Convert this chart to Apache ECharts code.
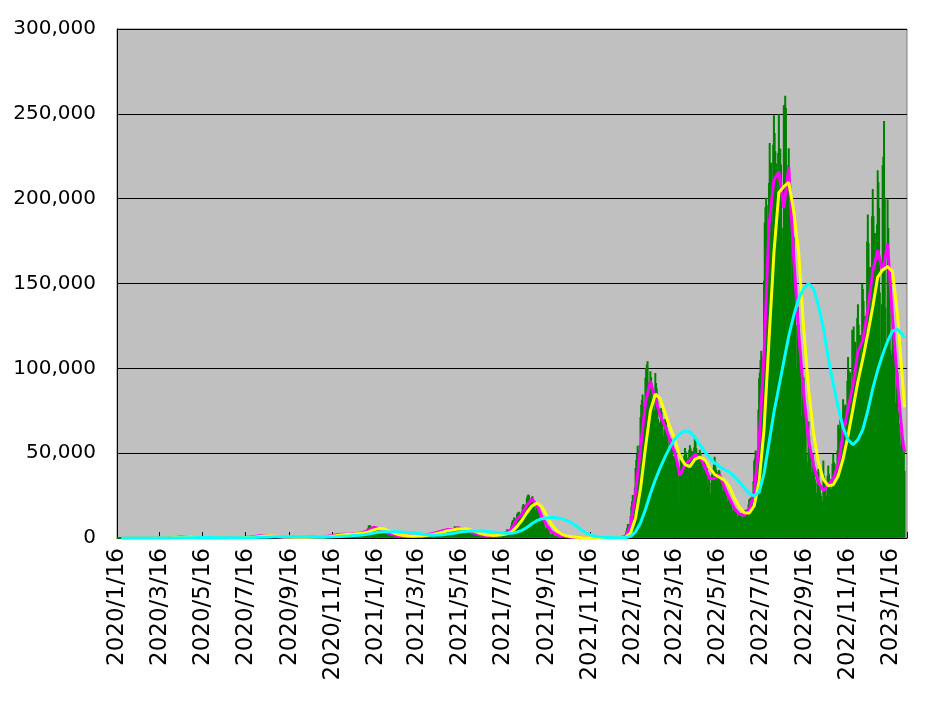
<!DOCTYPE html>
<html><head><meta charset="utf-8">
<script src="https://cdn.jsdelivr.net/npm/echarts/dist/echarts.min.js"></script>
<style>html,body{margin:0;padding:0;background:#fff}#c{width:936px;height:702px}</style>
</head><body><div id="c"></div>
<script>
// Daily new cases, rows = weeks Thu..Wed, first day 2020/1/16
const firstDay = [2020, 1, 16];
const dayCount = 1119;
const cases2020 = [
1,0,0,0,0,0,0, 0,1,1,0,0,2,1, 3,2,1,0,0,0,0, 0,0,0,0,0,0,1,
4,8,6,5,4,2,3, 8,9,11,9,11,8,7, 14,15,10,9,15,14,31, 32,36,45,40,27,26,54,
52,41,60,38,16,14,44, 39,34,44,49,39,51,95, 95,122,197,173,101,196,267,
243,347,369,348,252,351,511, 576,701,720,568,349,389,457, 577,578,584,558,351,377,445,
421,448,311,301,180,186,248, 167,217,293,213,147,84,106, 96,86,118,61,53,88,55,
98,41,45,29,18,42,33, 25,23,35,15,29,38,38, 39,53,47,44,37,33,55,
45,48,46,47,49,37,44, 42,71,55,75,45,35,72, 79,66,53,88,71,67,96,
108,100,100,130,88,124,126, 194,250,207,207,196,188,207, 355,430,409,287,255,262,450,
622,664,585,510,400,631,795, 981,769,787,767,598,990,1264, 1301,1580,1534,1331,963,1237,1354,
1485,1603,1568,1443,1010,986,1030, 1177,1360,1228,1011,616,885,1102, 1039,1032,852,740,501,695,853,
877,661,849,598,437,530,591, 585,578,523,443,268,505,511, 645,649,643,468,270,427,549,
596,539,572,404,288,207,338, 560,472,642,380,291,479,552, 626,567,522,386,350,533,532,
641,682,609,428,286,487,491, 752,660,621,411,309,530,613, 748,791,719,561,499,588,738,
843,802,868,604,479,740,1006, 1084,1146,1335,948,1025,1278,1547, 1661,1713,1732,1436,948,1690,2201,
2388,2418,2508,2164,1513,1227,1953, 2499,2605,2680,2045,1419,2033,2424, 2507,2434,2509,2029,1496,2184,2810,
2971,2776,3046,2392,1680,2997,3201, 3209,2991,2995,2495,1809,2667,3269, 3738,3825,3880,2938,2395,3608,3852,
4520,3245,3067,3158,4915,6004,7570
];
const cases2021 = [
7851,7882,6884,6083,4875,4538,5875, 6605,7133,6404,5759,3323,4927,5533, 5654,4984,4723,3981,2764,3853,3961,
3534,3348,3079,2694,1794,2329,2631, 2576,2364,1972,1665,1218,1570,1715, 1475,1579,1339,1357,1076,1301,1520,
1270,1311,1222,1060,736,993,1081, 1071,1193,994,1020,867,967,1145, 1155,1161,1064,1062,738,1128,1306,
1285,1312,1314,1121,986,1140,1385, 1507,1468,1556,1276,816,1514,1918, 1912,2041,2082,1785,1497,2068,2817,
2596,2764,2777,2467,1565,2649,3444, 3447,3697,3740,2940,2115,3452,4309, 4573,4532,4802,4085,2855,4317,5289,
5506,5114,5604,4616,3314,4865,5794, 5916,5042,5971,4904,3666,4200,4380, 4525,6056,7244,6502,5165,6248,7002,
6873,6266,6418,5240,3678,5232,5684, 5670,5262,4875,4000,2814,4084,4530, 4121,3697,3483,2744,1957,2860,2916,
2958,2640,2617,2089,1343,2095,2130, 1964,1941,1809,1373,935,1427,1679, 1557,1572,1604,1328,932,1424,1801,
1709,1613,1785,1484,1033,1589,1907, 1766,1932,1895,1666,1167,1887,2201, 2247,2311,2277,1942,1494,2382,3195,
3429,3417,3091,2700,1899,3767,5396, 4219,3774,4237,4690,4690,7629,9576, 10699,10743,12341,10165,8392,12041,14209,
15263,14723,15753,14472,12088,10374,15812, 18889,20365,19800,17510,14739,19990,23917, 25146,25866,25492,22150,15760,21610,24314,
24954,22748,21760,19294,13000,16686,20018, 16821,16197,14297,12897,7686,10497,11840, 10396,9915,8845,7216,4179,6062,6850,
5679,5209,4681,3580,2160,1767,2830, 2832,2553,2204,1625,1136,1611,1971, 1582,1441,1234,928,593,873,1144,
997,824,765,518,369,526,631, 621,507,467,383,232,285,403, 346,323,306,266,154,231,292,
270,240,245,165,86,225,172, 169,161,211,162,104,152,191, 190,199,172,133,83,127,157,
133,153,170,112,50,107,134, 154,123,133,117,79,102,122, 137,117,162,124,68,132,139,
150,134,123,115,92,141,173, 150,160,170,150,100,180,250, 280,290,300,260,220,380,500,
500,560,450,530,780,1150,2600
];
const cases2022 = [
4500,6200,8400,8500,6400,6300,13200, 18800,22000,25700,25400,22600,30100,41500, 46200,49800,54600,52200,39600,55000,71600,
78900,81800,84900,78000,58800,80200,94900, 100500,102500,104400,92000,62800,86600,98600, 95000,91300,82800,79300,53600,74800,97500,
91600,88500,81000,70500,47800,68400,56800, 76700,74600,70500,60500,41200,64700,70500, 69000,65500,62500,53000,36100,58800,57900,
58800,57000,55600,48600,29200,46400,51900, 50100,45000,42300,37200,21400,19800,41000, 46700,46200,44700,39200,25500,48700,53400,
51300,49300,47300,40800,27000,52100,54900, 53100,51600,51400,44100,30500,53600,60400, 56900,53300,50500,42800,27300,49700,52300,
50500,47200,45000,38000,24100,41600,47300, 43500,39600,41500,31000,21500,35900,32900, 26300,24100,37500,41200,25700,43400,48200,
45400,40600,39400,34700,20100,40400,39700, 36300,34000,32600,27900,16000,30900,30700, 28200,26400,25900,22300,12700,24800,23000,
20800,19800,19500,16000,9700,18500,18000, 16800,15800,15500,12900,7400,14800,14500, 14600,14200,14700,12100,7500,14700,16000,
16700,16300,17100,14300,9100,20000,23000, 23400,23900,24300,20200,14600,33700,45800, 47300,51800,51300,43400,31400,76100,94500,
97800,105000,110700,105800,81500,107600,151900, 186200,195200,200900,172800,127900,196400,209600, 233100,221100,221500,186900,133200,232000,249400,
239000,228200,221000,202500,142900,227200,250000, 200000,229800,220300,167800,104900,183100,255300, 255500,261000,253800,220000,100200,210200,230000,
212000,200400,177400,150000,71200,169900,177500, 160800,139100,125800,100700,58300,136400,126300, 111000,100000,94000,72500,32500,95000,95000,
81000,69000,65000,50000,24000,45000,69000, 60000,37000,49000,39000,20000,50000,46000, 40000,35000,33000,27000,15000,39000,41000,
34000,31000,27000,25000,11000,22000,46000, 37000,35000,30000,25000,12000,37000,43000, 38000,35000,34000,29000,15000,44000,50000,
45000,44000,41000,34000,19000,52000,67000, 55000,65000,70000,60000,30000,70000,82000, 78000,76000,79000,67000,35000,93000,107000,
99000,93000,98000,82000,45000,123000,92000, 125000,115000,116000,96000,50000,130000,138000, 126000,118000,120000,100000,56000,150000,147000,
140000,130000,131000,110000,65000,175000,191000, 174000,158000,160000,135000,78000,190000,206000, 190000,178000,180000,140000,97000,185000,217000,
210000,195000,145000,105000,88000,138000,220000
];
const cases2023 = [
225000,246000,200000,136000,88000,117000,200000, 183000,165000,149000,111000,60000,108000,132000,
125000,112000,100000,80000,40000,90000,98000, 75000,68000,63000,55000,30000,60000,60000,
58000,52000,40000,null,null,null
];

// Moving averages read at the end of each week (Wednesday), last value at 2023/2/4
const lastLineDay = 1115;
const avg7 = [
0,1,1,0,5,9,15,37,38,50,
164,346,537,496,299,175,80,44,29,44,
45,56,74,111,207,350,601,879,1329,1304,
1054,816,649,488,522,421,482,502,518,557,
663,763,1195,1626,2024,2244,2281,2723,2776,3462,
4640,6284,5669,4560,2773,1869,1378,1096,1037,1088,
1220,1436,2029,2609,3386,4350,4973,4868,6106,5484,
4462,3111,2267,1590,1460,1589,1788,2264,3386,5545,
11227,14069,19316,22905,19780,12891,7638,3701,1990,1114,
661,414,274,200,164,152,123,119,126,133,
166,319,939,7643,26586,52714,79643,92486,82043,72086,
65529,57543,49643,36686,43486,46100,49243,47543,41957,35129,
35200,37186,29771,23329,17471,13957,13400,16643,26557,56543,
108614,184143,211029,215829,194457,218671,165486,121057,85714,57571,
43000,32857,28000,31286,35000,43143,61714,76429,90286,110000,
116714,134571,157286,169571,157286,173143,129714,92143,58714,
50700
];
const avg21 = [
0,0,1,1,2,5,10,20,30,42,
84,187,349,460,444,323,185,100,51,39,
39,48,58,80,131,223,386,610,936,1171,
1229,1058,840,651,553,477,475,468,501,526,
579,661,874,1195,1615,1965,2183,2416,2593,2987,
3626,4795,5531,5504,4334,3067,2007,1448,1170,1074,
1115,1248,1562,2025,2675,3448,4236,4730,5316,5486,
5351,4352,3280,2323,1772,1546,1612,1880,2479,3732,
6719,10280,14871,18763,20667,18525,13436,8077,4443,2268,
1255,730,450,296,213,172,146,131,123,126,
142,206,475,2967,11723,28981,52981,74948,84724,82205,
73219,65053,57572,47957,43272,42091,46276,47629,46248,41543,
37429,35838,34052,30095,23524,18252,14943,14667,18867,33248,
63905,116433,167929,203667,207105,209652,192871,168405,124086,88114,
62095,44476,34619,30714,31429,36476,46619,60429,76143,92238,
105667,120428,136190,153810,158000,160000,157000,131667,93524,
77000
];
const avg70 = [
0,0,0,0,1,2,3,7,11,16,
32,67,120,170,199,216,222,223,222,221,
210,181,134,96,87,104,156,240,370,496,
597,673,730,768,799,806,794,757,676,601,
562,557,611,725,875,1057,1237,1459,1685,1976,
2373,2926,3373,3666,3741,3704,3613,3451,3277,3039,
2697,2213,1849,1654,1715,1963,2322,2700,3207,3646,
3970,4138,4162,4060,3867,3591,3273,3012,2740,2746,
3423,4519,6223,8355,10187,11317,11902,12046,11906,11463,
10407,9041,7137,4866,2905,1631,879,521,335,237,
187,178,244,988,3631,8887,16839,26076,34267,41463,
47999,53721,58592,61496,63186,62525,59485,54990,50982,47286,
44253,42217,40230,38894,36293,33079,29494,26404,24864,27006,
38000,56000,74000,89000,104000,119000,131000,141000,147000,150000,
147000,137000,124000,106000,91000,77000,65000,58000,55000,58000,
64000,75000,88000,99000,108000,116000,122000,123000,120000,
118000
];
const yTicks = {min: 0, max: 300000, step: 50000};

// ---- build categories ----
const dates = [];
for (let i = 0; i < dayCount; i++) {
  const d = new Date(Date.UTC(firstDay[0], firstDay[1] - 1, firstDay[2] + i));
  dates.push(d.getUTCFullYear() + '/' + (d.getUTCMonth() + 1) + '/' + d.getUTCDate());
}
const daily = cases2020.concat(cases2021, cases2022, cases2023);
function linePoints(vals) {
  return vals.map((v, k) => [dates[k < vals.length - 1 ? 7 * k + 6 : lastLineDay], v]);
}
function isTickDay(index, value) {
  const p = String(value).split('/');
  return p[2] === '16' && (+p[1]) % 2 === 1;
}
function comma(v) { return String(v).replace(/\B(?=(\d{3})+(?!\d))/g, ','); }

const chart = echarts.init(document.getElementById('c'), null, {renderer: 'canvas'});
const lineBase = {type: 'line', showSymbol: false, symbol: 'none', smooth: false, animation: false, silent: true};
chart.setOption({
  animation: false,
  backgroundColor: '#ffffff',
  grid: {left: 117, top: 29, width: 790, height: 509, show: true, backgroundColor: '#c0c0c0',
         borderColor: '#808080', borderWidth: 1, containLabel: false, outerBoundsMode: 'none'},
  xAxis: {
    type: 'category', data: dates, boundaryGap: true,
    axisLine: {show: true, lineStyle: {color: '#000', width: 1}},
    axisTick: {show: true, inside: true, length: 6, interval: isTickDay, lineStyle: {color: '#000'}},
    axisLabel: {interval: isTickDay, rotate: 90, margin: 10, fontSize: 23, fontFamily: 'DejaVu Sans', color: '#000'},
    splitLine: {show: false}
  },
  yAxis: {
    type: 'value', min: yTicks.min, max: yTicks.max, interval: yTicks.step,
    axisLine: {show: true, lineStyle: {color: '#000', width: 1}},
    axisTick: {show: true, inside: true, length: 7, lineStyle: {color: '#000'}},
    axisLabel: {margin: 21, fontSize: 20, fontFamily: 'DejaVu Sans', color: '#000', formatter: comma},
    splitLine: {show: true, lineStyle: {color: '#000', width: 1}}
  },
  series: [
    {type: 'bar', data: daily, barCategoryGap: '0%',
     itemStyle: {color: '#008000', borderColor: '#008000', borderWidth: 2},
     animation: false, silent: true},
    Object.assign({}, lineBase, {data: linePoints(avg7), lineStyle: {color: '#ff00ff', width: 3}, itemStyle: {color: '#ff00ff'}}),
    Object.assign({}, lineBase, {data: linePoints(avg21), lineStyle: {color: '#ffff00', width: 3}, itemStyle: {color: '#ffff00'}}),
    Object.assign({}, lineBase, {data: linePoints(avg70), lineStyle: {color: '#00ffff', width: 3}, itemStyle: {color: '#00ffff'}})
  ]
});
</script>
</body></html>
